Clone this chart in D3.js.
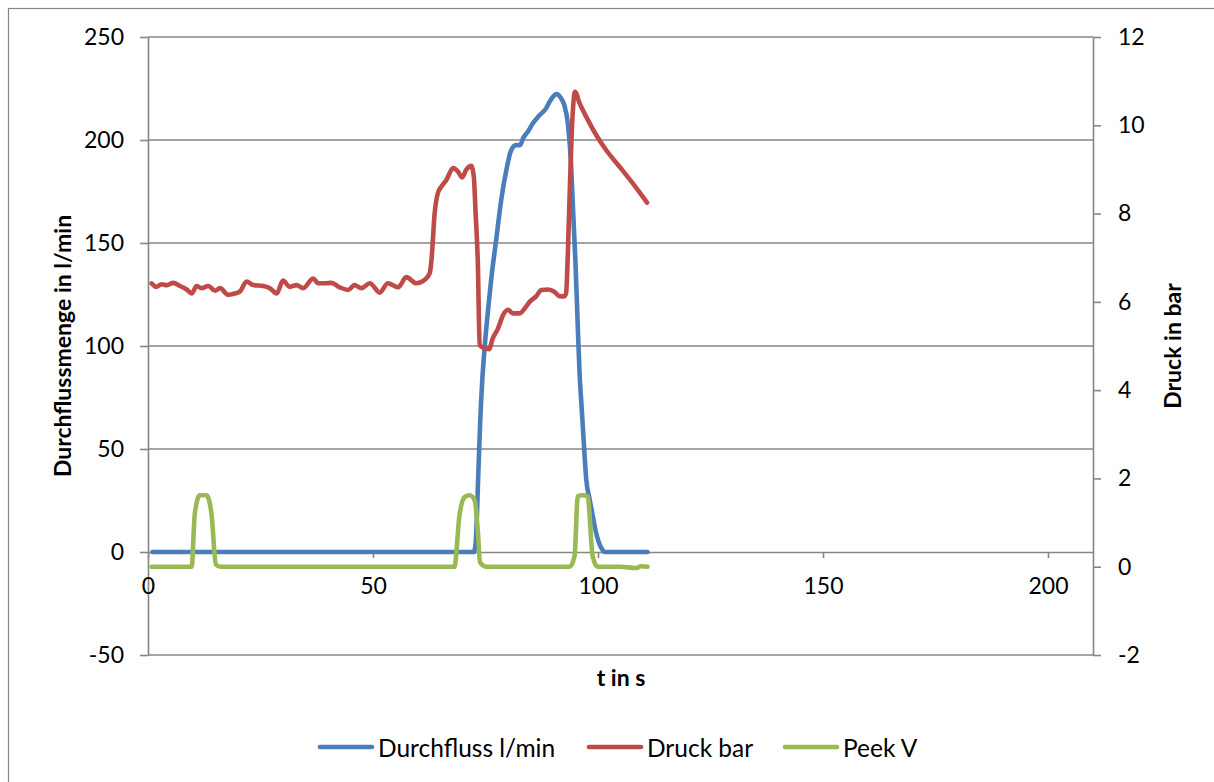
<!DOCTYPE html>
<html>
<head>
<meta charset="utf-8">
<script src="https://cdn.jsdelivr.net/npm/d3@7"></script>
<style>
  html, body { margin: 0; padding: 0; background: #ffffff; overflow: hidden; }
  svg { display: block; font-family: Lato, "Open Sans", "Liberation Sans", sans-serif; }
</style>
</head>
<body>
<svg id="chart" width="1214" height="782"></svg>
<script>
// Durchfluss (l/min) over time, left axis
const flowTime = [1, 20, 40, 60, 72.4, 72.8, 73.1, 73.4, 73.8, 74.3, 74.8, 75.5, 76.3, 77.4, 78.5, 79.6, 80.7, 81.8, 82.7, 83.4, 84.4, 85.5, 87.0, 88.5, 89.1, 90.0, 90.7, 91.8, 92.5, 93.3, 94.0, 94.5, 95.0, 95.4, 95.9, 96.4, 96.9, 97.4, 98.1, 98.8, 99.5, 100.3, 101.0, 101.5, 111];
const flowValues = [0, 0, 0, 0, 0, 4, 18, 38, 62, 84, 99, 116, 133, 152, 171, 185, 195, 197.5, 197.5, 201, 204, 208, 212, 215.5, 218, 221, 222.3, 220.2, 217, 208, 189, 164, 140, 116, 87, 69, 51, 35, 26, 18, 10, 4, 1, 0, 0];

// Druck (bar) over time, right axis
const pressureTime = [0.8, 1.9, 3.0, 4.2, 5.6, 7.1, 8.6, 9.7, 10.8, 11.9, 13.4, 14.9, 16.0, 17.8, 19.3, 20.4, 21.9, 23.4, 25.6, 27.1, 28.6, 30.0, 31.5, 33.0, 34.5, 36.7, 37.8, 39.3, 40.8, 42.6, 44.5, 45.9, 47.4, 49.3, 51.5, 53.3, 55.6, 57.4, 59.6, 61.5, 62.6, 63.0, 63.7, 64.4, 65.2, 66.3, 67.8, 68.9, 69.8, 70.7, 71.8, 72.4, 72.8, 73.3, 73.7, 74.8, 75.8, 76.6, 77.8, 78.9, 80.0, 81.1, 82.6, 83.7, 84.8, 86.3, 87.4, 88.9, 90.3, 91.4, 92.4, 92.9, 93.3, 93.8, 94.3, 94.9, 95.9, 97.4, 99.6, 101.8, 104.8, 107.7, 110.9];
const pressureValues = [6.42, 6.34, 6.40, 6.38, 6.43, 6.36, 6.28, 6.19, 6.36, 6.31, 6.36, 6.25, 6.31, 6.16, 6.19, 6.23, 6.46, 6.38, 6.36, 6.31, 6.19, 6.48, 6.34, 6.38, 6.31, 6.53, 6.42, 6.42, 6.43, 6.33, 6.27, 6.38, 6.31, 6.42, 6.21, 6.42, 6.33, 6.56, 6.42, 6.50, 6.65, 6.95, 8.01, 8.46, 8.61, 8.76, 9.03, 8.95, 8.82, 8.99, 9.08, 8.84, 8.01, 6.87, 5.02, 4.95, 4.93, 5.17, 5.40, 5.70, 5.82, 5.74, 5.74, 5.85, 6.00, 6.13, 6.27, 6.28, 6.23, 6.13, 6.12, 6.19, 7.10, 8.76, 10.12, 10.76, 10.50, 10.19, 9.78, 9.44, 9.06, 8.69, 8.25];

// Peek signal (V) over time, right axis
const peekTime = [0.8, 5, 9.7, 10.4, 11.5, 13.0, 14.1, 15.1, 16.0, 30, 50, 68.1, 69.2, 70.4, 71.5, 72.6, 73.3, 73.8, 75.2, 85, 93.7, 94.8, 95.5, 96.6, 97.7, 98.8, 99.9, 105, 108.5, 109.5, 111];
const peekValues = [0, 0, 0, 1.20, 1.62, 1.62, 1.20, 0.05, 0, 0, 0, 0, 1.15, 1.58, 1.62, 1.50, 0.80, 0.10, 0, 0, 0, 0.25, 1.60, 1.62, 1.60, 0.25, 0, 0, -0.03, 0.01, 0];

const xTicks = [0, 50, 100, 150, 200];
const leftTicks = [-50, 0, 50, 100, 150, 200, 250];
const rightTicks = [-2, 0, 2, 4, 6, 8, 10, 12];

const seriesNames = ["Durchfluss l/min", "Druck bar", "Peek V"];
const seriesColors = ["#4a7ebb", "#be4b48", "#98b954"];

const svg = d3.select("#chart");
const gray = "#868686";
const fontSize = 23;
const plainNumber = d => String(d);   // keeps a plain hyphen for negatives

const x = d3.scaleLinear().domain([0, 210]).range([148, 1093]);
const yL = d3.scaleLinear().domain([-50, 250]).range([655, 37]);
const yR = d3.scaleLinear().domain([-2, 12]).range([655, 37]);

// outer chart frame
svg.append("rect")
  .attr("x", 8.5).attr("y", 8.5)
  .attr("width", 1240).attr("height", 800)
  .attr("fill", "none").attr("stroke", gray).attr("stroke-width", 1.2);

// horizontal gridlines at the left-axis ticks
svg.append("g").selectAll("line")
  .data(leftTicks.filter(d => d !== 0))
  .join("line")
  .attr("x1", x(0)).attr("x2", x(210))
  .attr("y1", d => yL(d)).attr("y2", d => yL(d))
  .attr("stroke", gray).attr("stroke-width", 1.6);

function styleAxis(g) {
  g.selectAll("path.domain").attr("stroke", gray).attr("stroke-width", 1.6);
  g.selectAll(".tick line").attr("stroke", gray).attr("stroke-width", 1.6);
  g.selectAll(".tick text")
    .attr("fill", "#000")
    .style("font-size", fontSize + "px")
    .style("font-family", "Lato, 'Open Sans', sans-serif");
}

// left axis
svg.append("g")
  .attr("transform", `translate(${x(0)},0)`)
  .call(d3.axisLeft(yL).tickValues(leftTicks).tickFormat(plainNumber)
    .tickSize(8).tickSizeOuter(0).tickPadding(16))
  .call(styleAxis);

// right axis
svg.append("g")
  .attr("transform", `translate(${x(210)},0)`)
  .call(d3.axisRight(yR).tickValues(rightTicks).tickFormat(plainNumber)
    .tickSize(8).tickSizeOuter(0).tickPadding(17))
  .call(styleAxis);

// x axis crossing at flow = 0
svg.append("g")
  .attr("transform", `translate(0,${yL(0)})`)
  .call(d3.axisBottom(x).tickValues(xTicks).tickFormat(plainNumber)
    .tickSize(6).tickSizeOuter(0).tickPadding(20))
  .call(styleAxis);

// axis titles
svg.append("text")
  .attr("transform", `translate(62,${(37 + 655) / 2}) rotate(-90)`)
  .attr("text-anchor", "middle").attr("dominant-baseline", "central")
  .style("font-size", fontSize + "px").style("font-weight", "bold")
  .text("Durchflussmenge in l/min");

svg.append("text")
  .attr("transform", `translate(1172,${(37 + 655) / 2}) rotate(-90)`)
  .attr("text-anchor", "middle").attr("dominant-baseline", "central")
  .style("font-size", fontSize + "px").style("font-weight", "bold")
  .text("Druck in bar");

svg.append("text")
  .attr("x", 621).attr("y", 677)
  .attr("text-anchor", "middle").attr("dominant-baseline", "central")
  .style("font-size", fontSize + "px").style("font-weight", "bold")
  .text("t in s");

// series lines
const curve = d3.curveMonotoneX;
const flowLine = d3.line().x(d => x(d[0])).y(d => yL(d[1])).curve(curve);
const rightLine = d3.line().x(d => x(d[0])).y(d => yR(d[1])).curve(curve);

const lines = svg.append("g")
  .attr("fill", "none")
  .attr("stroke-width", 4.6)
  .attr("stroke-linejoin", "round")
  .attr("stroke-linecap", "round");

lines.append("path")
  .attr("d", flowLine(d3.zip(flowTime, flowValues)))
  .attr("stroke", seriesColors[0]);
lines.append("path")
  .attr("d", rightLine(d3.zip(pressureTime, pressureValues)))
  .attr("stroke", seriesColors[1]);
lines.append("path")
  .attr("d", rightLine(d3.zip(peekTime, peekValues)))
  .attr("stroke", seriesColors[2]);

// legend
const legendX = [320, 589, 785];
const legend = svg.append("g");
seriesNames.forEach((name, i) => {
  const g = legend.append("g").attr("transform", `translate(${legendX[i]},747)`);
  g.append("line")
    .attr("x1", 0).attr("x2", 52).attr("y1", 0).attr("y2", 0)
    .attr("stroke", seriesColors[i]).attr("stroke-width", 4.6)
    .attr("stroke-linecap", "round");
  g.append("text")
    .attr("x", 58).attr("y", 0)
    .attr("dominant-baseline", "central")
    .style("font-size", "24.5px")
    .text(name);
});
</script>
</body>
</html>
